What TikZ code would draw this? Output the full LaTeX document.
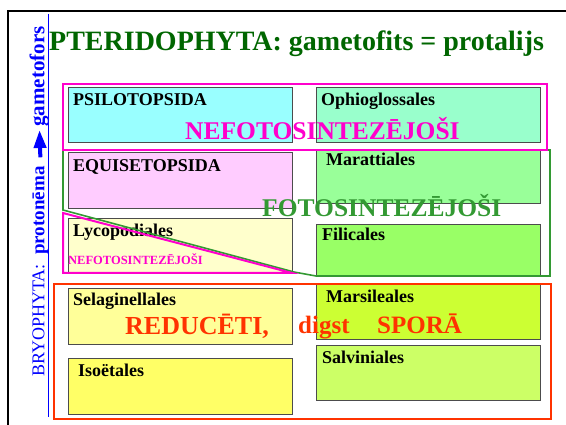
\documentclass[tikz,border=0pt]{standalone}
\usepackage{fontspec}
\setmainfont{Liberation Serif}
\usepackage{tikz}
\usetikzlibrary{arrows.meta, calc}
\usepackage{xcolor}
\definecolor{titlegreen}{HTML}{006600}
\definecolor{fotogreen}{HTML}{339933}
\definecolor{nefotopink}{HTML}{FF00CC}
\definecolor{reducred}{HTML}{FF3300}
\definecolor{psilofill}{HTML}{99FFFF}
\definecolor{ophiofill}{HTML}{99FFCC}
\definecolor{equifill}{HTML}{FFCCFF}
\definecolor{marafill}{HTML}{99FF99}
\definecolor{lycofill}{HTML}{FFFFCC}
\definecolor{filifill}{HTML}{99FF66}
\definecolor{selafill}{HTML}{FFFF99}
\definecolor{marsfill}{HTML}{CCFF33}
\definecolor{isoefill}{HTML}{FFFF66}
\definecolor{salvfill}{HTML}{CCFF66}

\begin{document}
\begin{tikzpicture}[x=1pt, y=-1pt,
  taxbox/.style={draw=black!70, line width=0.8pt, anchor=north west,
    inner sep=0pt, outer sep=0pt, minimum width=224.5pt, minimum height=#1},
  taxlabel/.style={font=\bfseries\fontsize{18}{22}\selectfont,
    anchor=base west, inner sep=0pt},
  bigword/.style={font=\bfseries\fontsize{25.5}{30}\selectfont, anchor=base west, inner sep=0pt},
  sidetext/.style={text=blue, rotate=90, anchor=base west, inner sep=0pt}
]
\useasboundingbox (0,0) rectangle (566,425);

% frame and side line
\draw[line width=2pt] (8,425) -- (8,11) -- (566,11);
\draw[blue, line width=1.5pt] (48.5,14) -- (48.5,417);

% title
\node[font=\bfseries\fontsize{28}{32}\selectfont, text=titlegreen,
  anchor=base west, inner sep=0pt] (title) at (49,51)
  {PTERIDOPHYTA: gametofits = protalijs};

% side text
\node[sidetext, font=\fontsize{18}{22}\selectfont] (bryo) at (44.5,377) {BRYOPHYTA:};
\node[sidetext, font=\bfseries\fontsize{19}{22}\selectfont] (proto) at (44.5,255) {protonēma};
\node[sidetext, font=\bfseries\fontsize{21}{24}\selectfont] (gameto) at (44.5,127) {gametofors};
\draw[blue, line width=4pt, -{Triangle[width=12pt, length=18pt]},
  shorten <=9pt, shorten >=3pt] (proto.east) -- (gameto.west);

% left column
\node[taxbox=55pt, fill=psilofill] (psilo) at (68,87) {};
\node[taxbox=56pt, fill=equifill] (equi) at (68,152) {};
\node[taxbox=55pt, fill=lycofill] (lyco) at (68,218) {};
\node[taxbox=56pt, fill=selafill] (sela) at (68,288) {};
\node[taxbox=56pt, fill=isoefill] (isoe) at (68,358) {};
% right column
\node[taxbox=55pt, fill=ophiofill] (ophio) at (316,87) {};
\node[taxbox=54pt, fill=marafill] (mara) at (316,149) {};
\node[taxbox=52pt, fill=filifill] (fili) at (316,224) {};
\node[taxbox=55pt, fill=marsfill] (mars) at (316,284) {};
\node[taxbox=55pt, fill=salvfill] (salv) at (316,345) {};

\node[taxlabel] (psilolbl) at ([shift={(5,19)}]psilo.north west) {PSILOTOPSIDA};
\node[taxlabel] (equilbl) at ([shift={(5,20)}]equi.north west) {EQUISETOPSIDA};
\node[taxlabel] (lycolbl) at ([shift={(5,19)}]lyco.north west) {Lycopodiales};
\node[taxlabel] (selalbl) at ([shift={(5,18)}]sela.north west) {Selaginellales};
\node[taxlabel] (isoelbl) at ([shift={(10,19)}]isoe.north west) {Isoëtales};
\node[taxlabel] (ophiolbl) at ([shift={(5,19)}]ophio.north west) {Ophioglossales};
\node[taxlabel] (maralbl) at ([shift={(10,17)}]mara.north west) {Marattiales};
\node[taxlabel] (fililbl) at ([shift={(6,17)}]fili.north west) {Filicales};
\node[taxlabel] (marslbl) at ([shift={(10,19)}]mars.north west) {Marsileales};
\node[taxlabel] (salvlbl) at ([shift={(6,18)}]salv.north west) {Salviniales};

% groups
\draw[fotogreen, line width=1.6pt] (63,150) -- (63,210) -- (294,272) -- (316,276)
  -- (550,276) -- (550,150) -- cycle;
\draw[nefotopink, line width=2pt] (63,84) rectangle (547,150);
\draw[nefotopink, line width=2pt] (63,213) -- (63,273) -- (292,273) -- cycle;
\draw[reducred, line width=2pt] (54,284) rectangle (551,419);

\node[bigword, text=nefotopink] (nefoto) at (185,140) {NEFOTOSINTEZĒJOŠI};
\node[bigword, text=fotogreen] (foto) at (262,217) {FOTOSINTEZĒJOŠI};
\node[font=\bfseries\fontsize{12.5}{14}\selectfont, text=nefotopink,
  anchor=base west, inner sep=0pt] (nefotolyco) at (68,265) {NEFOTOSINTEZĒJOŠI};
\node[bigword, font=\bfseries\fontsize{26}{30}\selectfont, text=reducred] (reduc) at (125,335) {REDUCĒTI,};
\node[bigword, font=\bfseries\fontsize{25}{30}\selectfont, text=reducred] (digst) at (298,334) {digst};
\node[bigword, font=\bfseries\fontsize{25}{30}\selectfont, text=reducred] (spora) at (377,334) {SPORĀ};
\end{tikzpicture}
\end{document}
